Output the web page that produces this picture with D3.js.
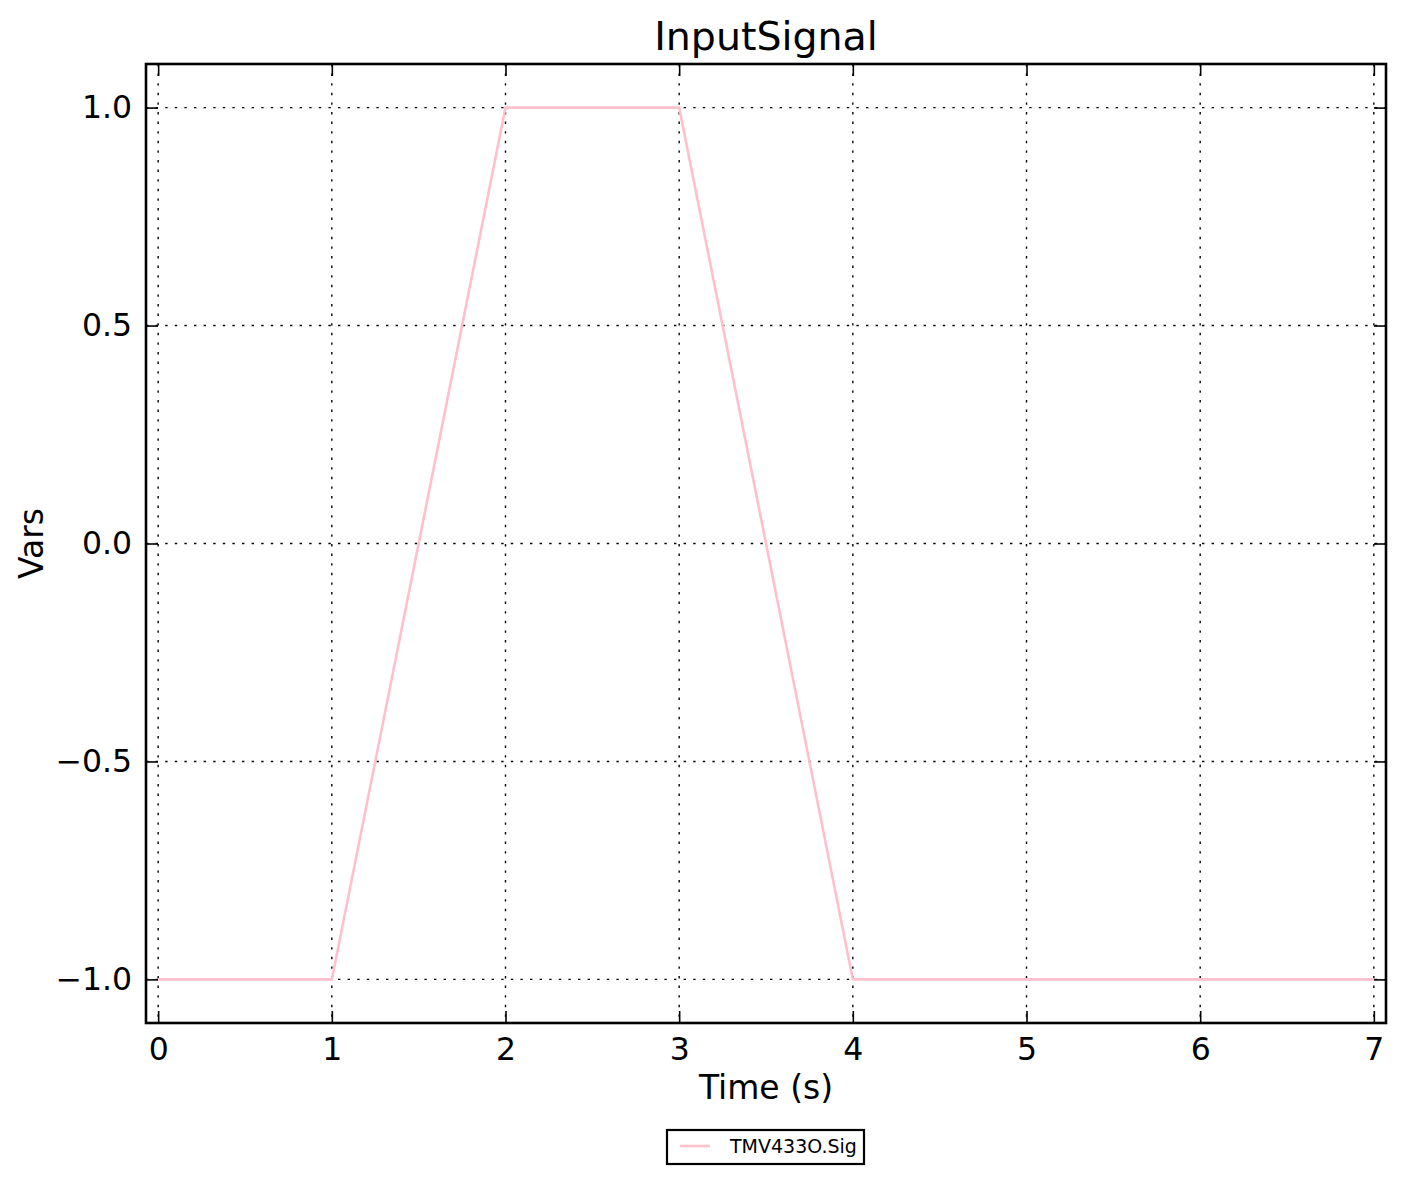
<!DOCTYPE html>
<html>
<head>
<meta charset="utf-8">
<script src="https://cdn.jsdelivr.net/npm/d3@7"></script>
<style>
  body { margin: 0; background: #fff; }
  text { font-family: "DejaVu Sans", sans-serif; fill: #000; }
</style>
</head>
<body>
<div id="chart"></div>
<script>
// signal data
var timeValues = [0, 1, 2, 3, 4, 7];
var signalValues = [-1, -1, 1, 1, -1, -1];
var xTickValues = [0, 1, 2, 3, 4, 5, 6, 7];
var yTickValues = [-1.0, -0.5, 0.0, 0.5, 1.0];
var seriesName = "TMV433O.Sig";

var svgWidth = 1405;
var svgHeight = 1184;
var margin = { top: 64, right: 19, bottom: 161, left: 146 };
var chartWidth = svgWidth - margin.left - margin.right;
var chartHeight = svgHeight - margin.top - margin.bottom;

var svg = d3.select("#chart").append("svg")
    .attr("width", svgWidth)
    .attr("height", svgHeight);

var chartGroup = svg.append("g")
    .attr("transform", `translate(${margin.left}, ${margin.top})`);

var xScale = d3.scaleLinear().domain([-0.07, 7.07]).range([0, chartWidth]);
var yScale = d3.scaleLinear().domain([-1.1, 1.1]).range([chartHeight, 0]);

// grid
var grid = chartGroup.append("g");
grid.selectAll(".vgrid").data(xTickValues).enter().append("line")
    .attr("x1", d => xScale(d)).attr("x2", d => xScale(d))
    .attr("y1", 0).attr("y2", chartHeight)
    .attr("stroke", "#000").attr("stroke-width", 1.4)
    .attr("stroke-dasharray", "2.4,7.2");
grid.selectAll(".hgrid").data(yTickValues).enter().append("line")
    .attr("y1", d => yScale(d)).attr("y2", d => yScale(d))
    .attr("x1", 0).attr("x2", chartWidth)
    .attr("stroke", "#000").attr("stroke-width", 1.4)
    .attr("stroke-dasharray", "2.4,7.2");

// the line
var line = d3.line()
    .x((d, i) => xScale(timeValues[i]))
    .y(d => yScale(d));
chartGroup.append("path")
    .datum(signalValues)
    .attr("d", line)
    .attr("fill", "none")
    .attr("stroke", "#ffc0cb")
    .attr("stroke-width", 2.6);

// axes, ticks pointing inward on all sides
function styleAxis(g) {
    g.select(".domain").remove();
    g.selectAll(".tick line").attr("stroke", "#000").attr("stroke-width", 1.6);
    g.selectAll(".tick text").style("font-size", "31.5px");
}
var bottomAxis = d3.axisBottom(xScale).tickValues(xTickValues)
    .tickSizeInner(-12).tickSizeOuter(0).tickPadding(15).tickFormat(d3.format("d"));
chartGroup.append("g")
    .attr("transform", `translate(0, ${chartHeight})`)
    .call(bottomAxis).call(styleAxis);

var topAxis = d3.axisTop(xScale).tickValues(xTickValues)
    .tickSizeInner(-12).tickSizeOuter(0).tickFormat("");
chartGroup.append("g").call(topAxis).call(styleAxis);

var leftAxis = d3.axisLeft(yScale).tickValues(yTickValues)
    .tickSizeInner(-12).tickSizeOuter(0).tickPadding(14).tickFormat(d3.format(".1f"));
chartGroup.append("g").call(leftAxis).call(styleAxis);

var rightAxis = d3.axisRight(yScale).tickValues(yTickValues)
    .tickSizeInner(-12).tickSizeOuter(0).tickFormat("");
chartGroup.append("g")
    .attr("transform", `translate(${chartWidth}, 0)`)
    .call(rightAxis).call(styleAxis);

// frame
chartGroup.append("rect")
    .attr("width", chartWidth).attr("height", chartHeight)
    .attr("fill", "none").attr("stroke", "#000").attr("stroke-width", 2.6);

// labels
svg.append("text")
    .attr("x", margin.left + chartWidth / 2).attr("y", 50)
    .attr("text-anchor", "middle").style("font-size", "39.5px")
    .text("InputSignal");
svg.append("text")
    .attr("x", margin.left + chartWidth / 2).attr("y", 1099)
    .attr("text-anchor", "middle").style("font-size", "33px")
    .text("Time (s)");
svg.append("text")
    .attr("transform", `translate(43, ${margin.top + chartHeight / 2}) rotate(-90)`)
    .attr("text-anchor", "middle").style("font-size", "33px")
    .text("Vars");

// legend
var legend = svg.append("g").attr("transform", "translate(667, 1130)");
legend.append("rect")
    .attr("width", 197).attr("height", 34)
    .attr("fill", "#fff").attr("stroke", "#000").attr("stroke-width", 2.2);
legend.append("line")
    .attr("x1", 13).attr("x2", 43).attr("y1", 16).attr("y2", 16)
    .attr("stroke", "#ffc0cb").attr("stroke-width", 2.6);
legend.append("text")
    .attr("x", 63).attr("y", 23).style("font-size", "19px")
    .text(seriesName);
</script>
</body>
</html>
